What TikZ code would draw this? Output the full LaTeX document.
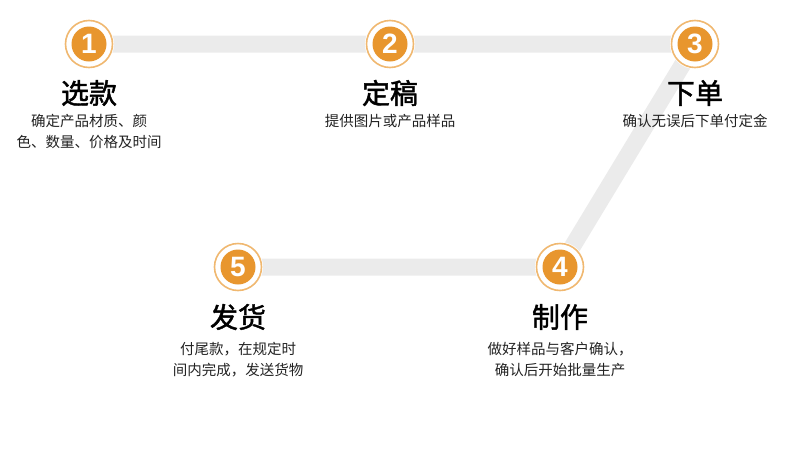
\documentclass[tikz,border=0pt]{standalone}
\usepackage{fontspec}
\newfontfamily\cjk{Noto Sans CJK SC}
\newfontfamily\cjktitle[FakeBold=1.6]{Noto Sans CJK SC}
\newfontfamily\numfont{Liberation Sans}
\definecolor{stepfill}{HTML}{E8962E}
\definecolor{stepring}{HTML}{F0B870}
\definecolor{bandgray}{HTML}{EBEBEB}
\definecolor{desctext}{HTML}{222222}
\tikzset{
  stepnum/.style={circle, fill=stepfill, minimum size=35pt, inner sep=0pt, text=white, font=\numfont\bfseries\fontsize{28}{28}\selectfont},
  stepring/.style={draw=stepring, line width=1.6pt},
  title/.style={font=\cjktitle\fontsize{28}{28}\selectfont, text=black, inner sep=0pt},
  desc/.style={font=\cjk\fontsize{14.5}{21}\selectfont, text=desctext, align=center, inner sep=0pt},
  band/.style={bandgray, line width=17pt}
}
\begin{document}
\begin{tikzpicture}[x=1pt, y=-1pt]
  \useasboundingbox (0,0) rectangle (790,453);
  % Steps
  \node[stepnum] (s1) at (89, 44) {1};
  \node[stepnum] (s2) at (390, 44) {2};
  \node[stepnum] (s3) at (695, 44) {3};
  \node[stepnum] (s4) at (560, 267) {4};
  \node[stepnum] (s5) at (238, 267) {5};

  % Track
  \draw[band] (s1.center) -- (s3.center) -- (s4.center) -- (s5.center);

  % Rings and discs (redrawn on top of the track)
  \foreach \s in {s1, s2, s3, s4, s5} {
    \fill[white] (\s.center) circle (25);
    \draw[stepring] (\s.center) circle (23.5);
  }
  \node[stepnum] at (s1) {1};
  \node[stepnum] at (s2) {2};
  \node[stepnum] at (s3) {3};
  \node[stepnum] at (s4) {4};
  \node[stepnum] at (s5) {5};

  % Titles
  \node[title] (t1) at (89, 93) {选款};
  \node[title] (t2) at (390, 93) {定稿};
  \node[title] (t3) at (695, 93) {下单};
  \node[title] (t4) at (560, 317) {制作};
  \node[title] (t5) at (238, 317) {发货};

  % Descriptions
  \node[desc, anchor=north] (d1) at (89, 114) {确定产品材质、颜\\色、数量、价格及时间};
  \node[desc, anchor=north] (d2) at (390, 114) {提供图片或产品样品};
  \node[desc, anchor=north] (d3) at (695, 114) {确认无误后下单付定金};
  \node[desc, anchor=north] (d4) at (560, 342) {做好样品与客户确认，\\确认后开始批量生产};
  \node[desc, anchor=north] (d5) at (238, 342) {付尾款，在规定时\\间内完成，发送货物};
\end{tikzpicture}
\end{document}
